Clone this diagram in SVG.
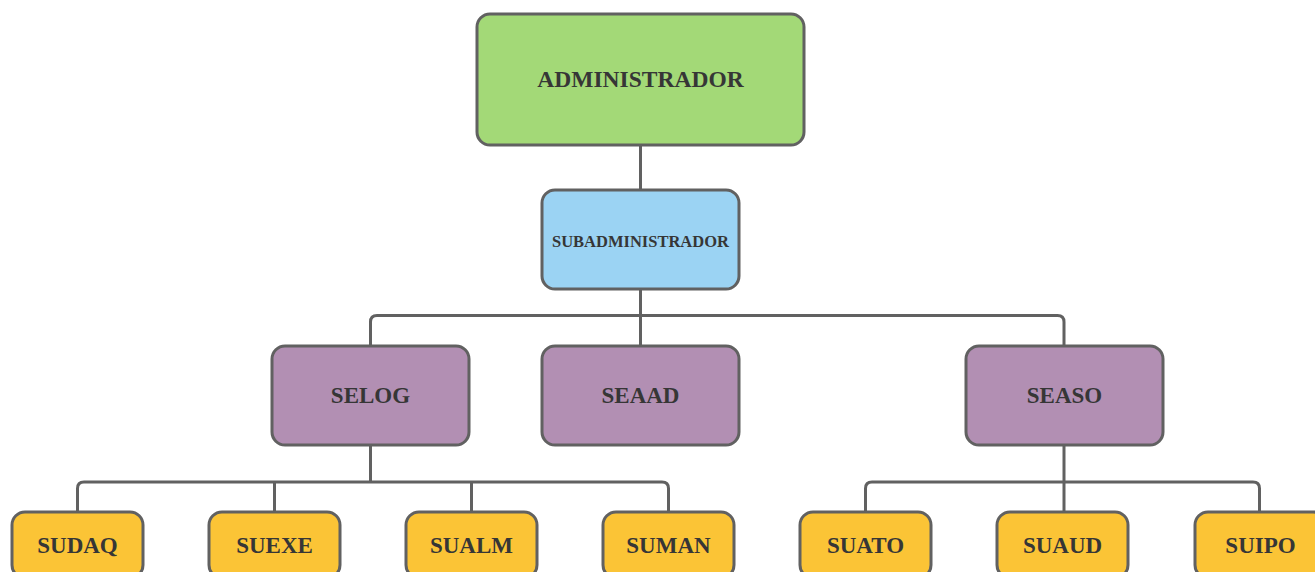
<svg xmlns="http://www.w3.org/2000/svg" width="1315" height="572" viewBox="0 0 1315 572">
<style>
.box{stroke:#616161;stroke-width:3}
.g{fill:#a3d977}
.b{fill:#9bd3f3}
.p{fill:#b28fb3}
.y{fill:#fbc436}
.t{font-family:"Liberation Serif","Times New Roman",serif;font-weight:bold;fill:#363636;text-anchor:middle;dominant-baseline:central}
.c{fill:none;stroke:#616161;stroke-width:3}
</style>
<rect width="1315" height="572" fill="#ffffff"/>
<g id="connectors">
<path class="c" d="M640.5 145V190"/>
<path class="c" d="M640.5 289V346"/>
<path class="c" d="M370.5 346V322Q370.5 315.5 377 315.5H1057.5Q1064 315.5 1064 322V346"/>
<path class="c" d="M370.5 445V482"/>
<path class="c" d="M77.5 512V488.5Q77.5 482 84 482H662Q668.5 482 668.5 488.5V512"/>
<path class="c" d="M274.5 482V512"/>
<path class="c" d="M471.5 482V512"/>
<path class="c" d="M1064 445V512"/>
<path class="c" d="M865.5 512V488.5Q865.5 482 872 482H1253Q1259.5 482 1259.5 488.5V512"/>
</g>
<g id="administrador"><rect class="box g" x="477" y="14" width="327" height="131" rx="13"/><text class="t" x="640.5" y="79" font-size="23.5">ADMINISTRADOR</text></g>
<g id="subadministrador"><rect class="box b" x="542" y="190" width="197" height="99" rx="13"/><text class="t" x="640.5" y="241" font-size="16.5">SUBADMINISTRADOR</text></g>
<g id="selog"><rect class="box p" x="272" y="346" width="197" height="99" rx="13"/><text class="t" x="370.5" y="395.5" font-size="23">SELOG</text></g>
<g id="seaad"><rect class="box p" x="542" y="346" width="197" height="99" rx="13"/><text class="t" x="640.5" y="395.5" font-size="23">SEAAD</text></g>
<g id="seaso"><rect class="box p" x="966" y="346" width="197" height="99" rx="13"/><text class="t" x="1064.5" y="395.5" font-size="23">SEASO</text></g>
<g id="sudaq"><rect class="box y" x="12" y="512" width="131" height="66" rx="13"/><text class="t" x="77.5" y="545" font-size="23">SUDAQ</text></g>
<g id="suexe"><rect class="box y" x="209" y="512" width="131" height="66" rx="13"/><text class="t" x="274.5" y="545" font-size="23">SUEXE</text></g>
<g id="sualm"><rect class="box y" x="406" y="512" width="131" height="66" rx="13"/><text class="t" x="471.5" y="545" font-size="23">SUALM</text></g>
<g id="suman"><rect class="box y" x="603" y="512" width="131" height="66" rx="13"/><text class="t" x="668.5" y="545" font-size="23">SUMAN</text></g>
<g id="suato"><rect class="box y" x="800" y="512" width="131" height="66" rx="13"/><text class="t" x="865.5" y="545" font-size="23">SUATO</text></g>
<g id="suaud"><rect class="box y" x="997" y="512" width="131" height="66" rx="13"/><text class="t" x="1062.5" y="545" font-size="23">SUAUD</text></g>
<g id="suipo"><rect class="box y" x="1195" y="512" width="131" height="66" rx="13"/><text class="t" x="1260.5" y="545" font-size="23">SUIPO</text></g>
</svg>
